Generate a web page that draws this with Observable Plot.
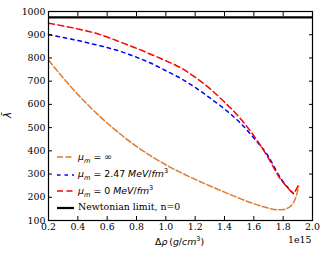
<!DOCTYPE html>
<html><head><meta charset="utf-8">
<script src="https://cdn.jsdelivr.net/npm/d3@7"></script>
<script src="https://cdn.jsdelivr.net/npm/@observablehq/plot@0.6"></script>
<style>
body{margin:0;background:#fff;}
#wrap{position:relative;width:327px;height:257px;}
#wrap svg text{font-family:"DejaVu Serif",serif !important;font-size:9.4px !important;}
.ov{position:absolute;white-space:nowrap;color:#000;line-height:12px;}
.serif{font-family:"DejaVu Serif",serif;font-size:9.4px;}
.math{font-family:"DejaVu Sans",sans-serif;font-size:9.4px;}
.it{font-style:italic;}
sub,sup{font-size:6.6px;line-height:0;}
</style></head>
<body><div id="wrap"></div>
<script>
// Data (x in units of 1e15 g/cm^3)
const rhoInf = [0.2,0.3,0.4,0.5,0.6,0.7,0.8,0.9,1.0,1.1,1.2,1.3,1.4,1.5,1.6,1.7,1.76,1.8,1.84,1.87,1.89,1.905];
const lamInf = [791,714,643,578,520,467,419,377,340,307,277,249,222,196,172,153,146,147,157,177,207,247];
const rho247 = [0.2,0.3,0.4,0.5,0.6,0.7,0.8,0.9,1.0,1.1,1.2,1.3,1.4,1.5,1.6,1.7,1.78,1.83,1.87];
const lam247 = [900,888,875,860,845,826,803,777,745,712,673,628,580,525,455,375,285,243,216];
const rho0 = [0.2,0.3,0.4,0.5,0.6,0.7,0.8,0.9,1.0,1.1,1.2,1.3,1.4,1.5,1.6,1.7,1.78,1.83,1.87,1.89,1.91];
const lam0 = [950,938,925,910,890,866,842,815,788,758,717,668,610,545,465,368,280,242,218,235,262];
const newtonian = [975];
const xTicks = [0.2,0.4,0.6,0.8,1.0,1.2,1.4,1.6,1.8,2.0];
const yTicks = [100,200,300,400,500,600,700,800,900,1000];

const mk = (xs, ys) => xs.map((x,i)=>({x, y: ys[i]}));
const sInf = mk(rhoInf, lamInf), s247 = mk(rho247, lam247), s0 = mk(rho0, lam0);

const orange = "#dd7b31";
const dashInf = "6,2.5", dash247 = "3.5,4", dash0 = "6,3.5";
const chart = Plot.plot({
  width: 327, height: 257,
  marginLeft: 48, marginRight: 15, marginTop: 11, marginBottom: 37,
  style: {fontFamily: "'DejaVu Serif', serif", fontSize: "9.4px", color: "#000", background: "#fff"},
  x: {domain: [0.2, 2.0]},
  y: {domain: [100, 1000]},
  marks: [
    Plot.line(sInf, {x: "x", y: "y", stroke: orange, strokeWidth: 1.5, strokeDasharray: dashInf, curve: "monotone-x"}),
    Plot.line(s247, {x: "x", y: "y", stroke: "#0000ff", strokeWidth: 1.5, strokeDasharray: dash247, curve: "monotone-x"}),
    Plot.line(s0, {x: "x", y: "y", stroke: "#ff0000", strokeWidth: 1.5, strokeDasharray: dash0, curve: "monotone-x"}),
    Plot.ruleY(newtonian, {stroke: "#000", strokeWidth: 2.2}),
    Plot.axisX({ticks: xTicks, tickFormat: d3.format(".1f"), tickSize: -4, tickPadding: 7, label: null}),
    Plot.axisX({anchor: "top", ticks: xTicks, tickFormat: () => "", tickSize: -4, label: null}),
    Plot.axisY({ticks: yTicks, tickFormat: d => String(d), tickSize: -4, tickPadding: 7, label: null}),
    Plot.axisY({anchor: "right", ticks: yTicks, tickFormat: () => "", tickSize: -4, label: null}),
    Plot.frame({stroke: "#000", strokeWidth: 1.2})
  ]
});
const wrap = document.getElementById("wrap");
wrap.appendChild(chart);

function ov(html, cls, left, top, extra) {
  const d = document.createElement("div");
  d.className = "ov " + cls;
  d.style.left = left + "px"; d.style.top = top + "px";
  if (extra) Object.assign(d.style, extra);
  d.innerHTML = html;
  wrap.appendChild(d);
  return d;
}
// axis labels
ov('<span class="it">λ̄</span>', "math", 5, 109, {fontSize: "10px", transform: "rotate(-90deg)"});
ov('Δ<span class="it">ρ</span>\u2009(<span class="it">g</span>/<span class="it">cm</span><sup>3</sup>)', "math", 155, 236, {fontSize: "9.4px"});
ov('1e15', "serif", 288, 234);

// legend
const mu = '<span class="it">μ<sub>m</sub></span>';
const leg = [
  {c: orange, d: dashInf, w: 1.5, t: mu + ' = ∞', cls: "math"},
  {c: "#0000ff", d: dash247, w: 1.5, t: mu + ' = 2.47 <span class="it">MeV</span>/<span class="it">fm</span><sup>3</sup>', cls: "math"},
  {c: "#ff0000", d: dash0, w: 1.5, t: mu + ' = 0 <span class="it">MeV</span>/<span class="it">fm</span><sup>3</sup>', cls: "math"},
  {c: "#000", d: "none", w: 2.2, t: 'Newtonian limit, n=0', cls: "serif"}
];
const ys = [157, 174.5, 191, 207.5];
leg.forEach((e, i) => {
  const s = document.createElementNS("http://www.w3.org/2000/svg", "svg");
  s.setAttribute("width", 20); s.setAttribute("height", 6);
  s.style.position = "absolute"; s.style.left = "55px"; s.style.top = (ys[i] - 3) + "px";
  const l = document.createElementNS("http://www.w3.org/2000/svg", "line");
  l.setAttribute("x1", 2); l.setAttribute("x2", 19); l.setAttribute("y1", 3); l.setAttribute("y2", 3);
  l.setAttribute("stroke", e.c); l.setAttribute("stroke-width", e.w);
  if (e.d !== "none") l.setAttribute("stroke-dasharray", e.d);
  s.appendChild(l); wrap.appendChild(s);
  ov(e.t, e.cls, 78, ys[i] - 6.5);
});
</script></body></html>
